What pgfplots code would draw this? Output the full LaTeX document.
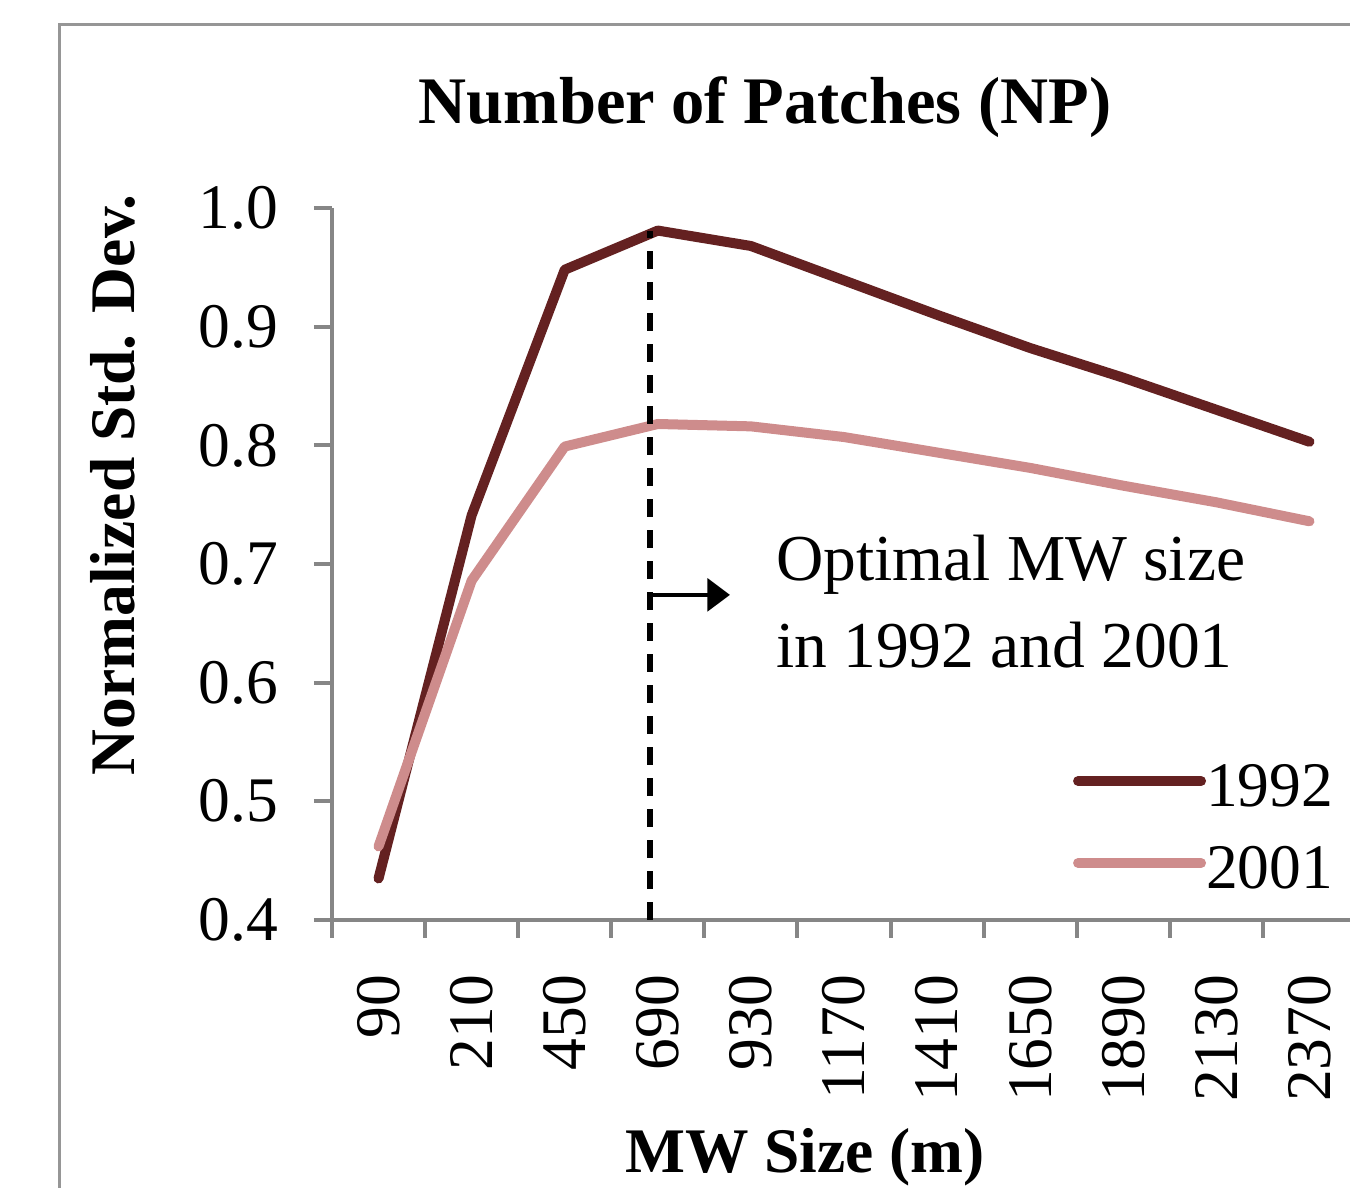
\documentclass[border=0pt]{standalone}
\usepackage{fontspec}
\setmainfont{Liberation Serif}
\usepackage{pgfplots}
\pgfplotsset{compat=1.18}
\usetikzlibrary{arrows.meta}

\definecolor{darkred}{RGB}{100,33,33}
\definecolor{lightred}{RGB}{206,140,140}
\definecolor{axgray}{RGB}{134,134,134}
\definecolor{framegray}{RGB}{150,150,150}

\begin{document}
\begin{tikzpicture}
\begin{axis}[
    at={(0,0)}, anchor=south west,
    scale only axis,
    width=204.8pt, height=142.4pt,
    xmin=-0.5, xmax=10.5,
    ymin=0.4, ymax=1.0,
    axis x line*=bottom, axis y line*=left,
    axis line style={draw=axgray, line width=0.8pt, -},
    tick style={draw=axgray, line width=0.8pt},
    tick align=outside,
    major tick length=3.6pt,
    xtick={-0.5,0.5,...,10.5},
    x tick label as interval,
    xticklabels={90,210,450,690,930,1170,1410,1650,1890,2130,2370},
    xticklabel style={rotate=90, anchor=east, inner sep=0pt, xshift=-7.2pt,
        font=\fontsize{12.7}{15}\selectfont},
    ytick={0.4,0.5,...,1.0},
    yticklabel style={anchor=east, inner sep=0pt, xshift=-7pt, font=\fontsize{12.7}{15}\selectfont,
        /pgf/number format/.cd, fixed, fixed zerofill, precision=1, assume math mode=true},
    title={\textbf{Number of Patches (NP)}},
    title style={at={(axis description cs:0.4229,1.1194)}, anchor=base, yshift=-6pt, inner sep=0pt,
        font=\fontsize{13.3}{16}\selectfont},
    xlabel={\textbf{MW Size (m)}},
    xlabel style={at={(axis description cs:0.4619,-0.3553)}, anchor=base, inner sep=0pt,
        font=\fontsize{12.7}{15}\selectfont},
    ylabel={\textbf{Normalized Std. Dev.}},
    ylabel style={at={(axis description cs:-0.1924,0.611)}, anchor=base, rotate=0, inner sep=0pt,
        font=\fontsize{12.7}{15}\selectfont},
    legend style={draw=none, fill=none, at={(rel axis cs:0.7227,0.2247)}, anchor=north west,
        inner sep=0pt, row sep=4.4pt, font=\fontsize{12.7}{15}\selectfont,
        nodes={inner sep=0pt, text height=9pt, text depth=3pt}},
    legend cell align=left,
    legend image code/.code={\draw[#1] (0pt,2pt) -- (24.6pt,2pt);},
    /tikz/every even column/.append style={column sep=2pt},
    clip=false,
]
\addplot[darkred, line width=2pt, line cap=round, line join=round] coordinates {
    (0,0.435) (1,0.741) (2,0.948) (3,0.981) (4,0.968) (5,0.939)
    (6,0.910) (7,0.882) (8,0.857) (9,0.830) (10,0.803)};
\addplot[lightred, line width=2pt, line cap=round, line join=round] coordinates {
    (0,0.462) (1,0.686) (2,0.799) (3,0.818) (4,0.816) (5,0.807)
    (6,0.794) (7,0.781) (8,0.766) (9,0.752) (10,0.736)};
\addplot[black, line width=1.2pt, dash pattern=on 3.6pt off 2.6pt] coordinates {
    (2.916,0.4) (2.916,0.981)};
\legend{1992,2001}
\draw[black, line width=0.8pt, -{Triangle[length=4.5pt,width=6.5pt]}] (axis cs:2.916,0.674) -- (axis cs:3.775,0.674);
\node[anchor=base west, inner sep=0pt, font=\fontsize{13.1}{16}\selectfont] at (axis cs:4.259,0.6865) {Optimal MW size};
\node[anchor=base west, inner sep=0pt, font=\fontsize{13.1}{16}\selectfont] at (axis cs:4.259,0.6124) {in 1992 and 2001};
\end{axis}
\draw[framegray, line width=0.6pt] (-54.4pt,-60pt) -- (-54.4pt,179pt) -- (210pt,179pt);
\pgfresetboundingbox
\path[use as bounding box] (-66.4pt,-53.6pt) rectangle (203.6pt,184pt);
\end{tikzpicture}
\end{document}
